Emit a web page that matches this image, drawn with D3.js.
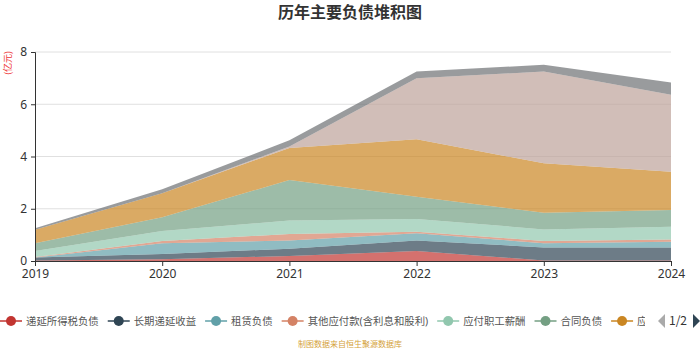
<!DOCTYPE html>
<html>
<head>
<meta charset="utf-8">
<script src="https://cdn.jsdelivr.net/npm/d3@7"></script>
<style>
  body { margin: 0; background: #fff; }
  svg { font-family: "Noto Sans CJK SC", "Noto Sans", sans-serif; display: block; }
</style>
</head>
<body>
<svg width="700" height="350"></svg>
<script>
// data (亿元)
const years = ['2019', '2020', '2021', '2022', '2023', '2024'];
const seriesNames = ['递延所得税负债', '长期递延收益', '租赁负债', '其他应付款(含利息和股利)',
  '应付职工薪酬', '合同负债', '应付账款', '应付票据', '应交税费'];
const colors = ['#c23531', '#2f4554', '#61a0a8', '#d48265', '#91c7ae', '#749f83', '#ca8622', '#bda29a', '#6e7074'];

const deferredTax = [0.02, 0.07, 0.19, 0.38, 0.02, 0.02];
const deferredIncome = [0.11, 0.20, 0.28, 0.40, 0.50, 0.50];
const leaseLiab = [0.00, 0.41, 0.31, 0.28, 0.16, 0.22];
const otherPayables = [0.02, 0.09, 0.25, 0.06, 0.09, 0.08];
const staffPay = [0.23, 0.38, 0.52, 0.49, 0.44, 0.49];
const contractLiab = [0.30, 0.52, 1.55, 0.85, 0.64, 0.64];
const accountsPay = [0.52, 0.92, 1.23, 2.20, 1.89, 1.47];
const notesPay = [0.00, 0.00, 0.05, 2.34, 3.51, 2.94];
const taxPay = [0.05, 0.16, 0.24, 0.25, 0.26, 0.47];
const yTicks = [0, 2, 4, 6, 8];

const allSeries = [deferredTax, deferredIncome, leaseLiab, otherPayables, staffPay,
  contractLiab, accountsPay, notesPay, taxPay];

const svg = d3.select('svg');
const width = +svg.attr('width');
const height = +svg.attr('height');

const margin = { top: 52, right: 29, bottom: 89, left: 35 };
const innerWidth = width - margin.left - margin.right;
const innerHeight = height - margin.top - margin.bottom;

// rows for d3.stack
const table = years.map((y, i) => {
  const row = { year: y };
  seriesNames.forEach((n, k) => row[n] = allSeries[k][i]);
  return row;
});
const stacked = d3.stack().keys(seriesNames)(table);

const xScale = d3.scalePoint().domain(years).range([0, innerWidth]);
const yScale = d3.scaleLinear().domain([0, 8]).range([innerHeight, 0]);

// title
svg.append('text')
  .attr('x', width / 2).attr('y', 18)
  .attr('text-anchor', 'middle')
  .attr('font-size', 16).attr('font-weight', 'bold').attr('fill', '#333')
  .text('历年主要负债堆积图');

// unit
svg.append('text')
  .attr('transform', 'translate(11, 63) rotate(-90)')
  .attr('text-anchor', 'middle')
  .attr('font-size', 9).attr('fill', '#e33')
  .text('(亿元)');

const g = svg.append('g')
  .attr('transform', `translate(${margin.left}, ${margin.top})`);

// grid
g.append('g').selectAll('line').data(yTicks.filter(t => t > 0))
  .enter().append('line')
  .attr('x1', 0).attr('x2', innerWidth)
  .attr('y1', d => yScale(d)).attr('y2', d => yScale(d))
  .attr('stroke', '#e0e0e0');

const area = d3.area()
  .x(d => xScale(d.data.year))
  .y0(d => yScale(d[0]))
  .y1(d => yScale(d[1]));

g.selectAll('path.layer').data(stacked)
  .enter().append('path')
  .attr('class', 'layer')
  .attr('d', area)
  .attr('fill', (d, i) => colors[i])
  .attr('fill-opacity', 0.7);

// axes
const yAxis = g.append('g').call(d3.axisLeft(yScale).tickValues(yTicks).tickSize(4).tickPadding(4));
const xAxis = g.append('g').attr('transform', `translate(0, ${innerHeight})`)
  .call(d3.axisBottom(xScale).tickSize(5).tickPadding(3));
[yAxis, xAxis].forEach(a => {
  a.select('.domain').attr('stroke', '#333');
  a.selectAll('.tick line').attr('stroke', '#333');
  a.selectAll('text').attr('font-size', 12).attr('fill', '#333')
    .attr('font-family', '"Noto Sans", sans-serif');
});

// legend (clipped like the paged legend)
svg.append('clipPath').attr('id', 'legClip')
  .append('rect').attr('x', 0).attr('y', 300).attr('width', 645).attr('height', 40);
const legend = svg.append('g').attr('clip-path', 'url(#legClip)');
const legY = 321;
let lx = 0;
seriesNames.forEach((n, i) => {
  const it = legend.append('g').attr('transform', `translate(${lx}, ${legY})`);
  it.append('line').attr('x1', 0).attr('x2', 22).attr('stroke', colors[i]).attr('stroke-width', 1.5);
  it.append('circle').attr('cx', 11).attr('r', 5).attr('fill', colors[i]);
  const t = it.append('text').attr('x', 26).attr('dy', '0.35em')
    .attr('font-family', '"Noto Sans", "Noto Sans CJK SC", sans-serif')
    .attr('font-size', 10.4).attr('fill', '#555').text(n);
  lx += 26 + t.node().getComputedTextLength() + 9;
});

// pager
const pager = svg.append('g').attr('transform', `translate(0, ${legY})`);
pager.append('path').attr('d', 'M665,-7 L658,0 L665,7 Z').attr('fill', '#aaa');
pager.append('text').attr('x', 678).attr('dy', '0.35em').attr('text-anchor', 'middle')
  .attr('font-size', 12).attr('fill', '#333').text('1/2');
pager.append('path').attr('d', 'M693,-7 L700,0 L693,7 Z').attr('fill', '#2f4554');

// source
svg.append('text')
  .attr('x', width / 2).attr('y', 347)
  .attr('text-anchor', 'middle')
  .attr('font-size', 8).attr('fill', '#d4a23a')
  .text('制图数据来自恒生聚源数据库');
</script>
</body>
</html>
